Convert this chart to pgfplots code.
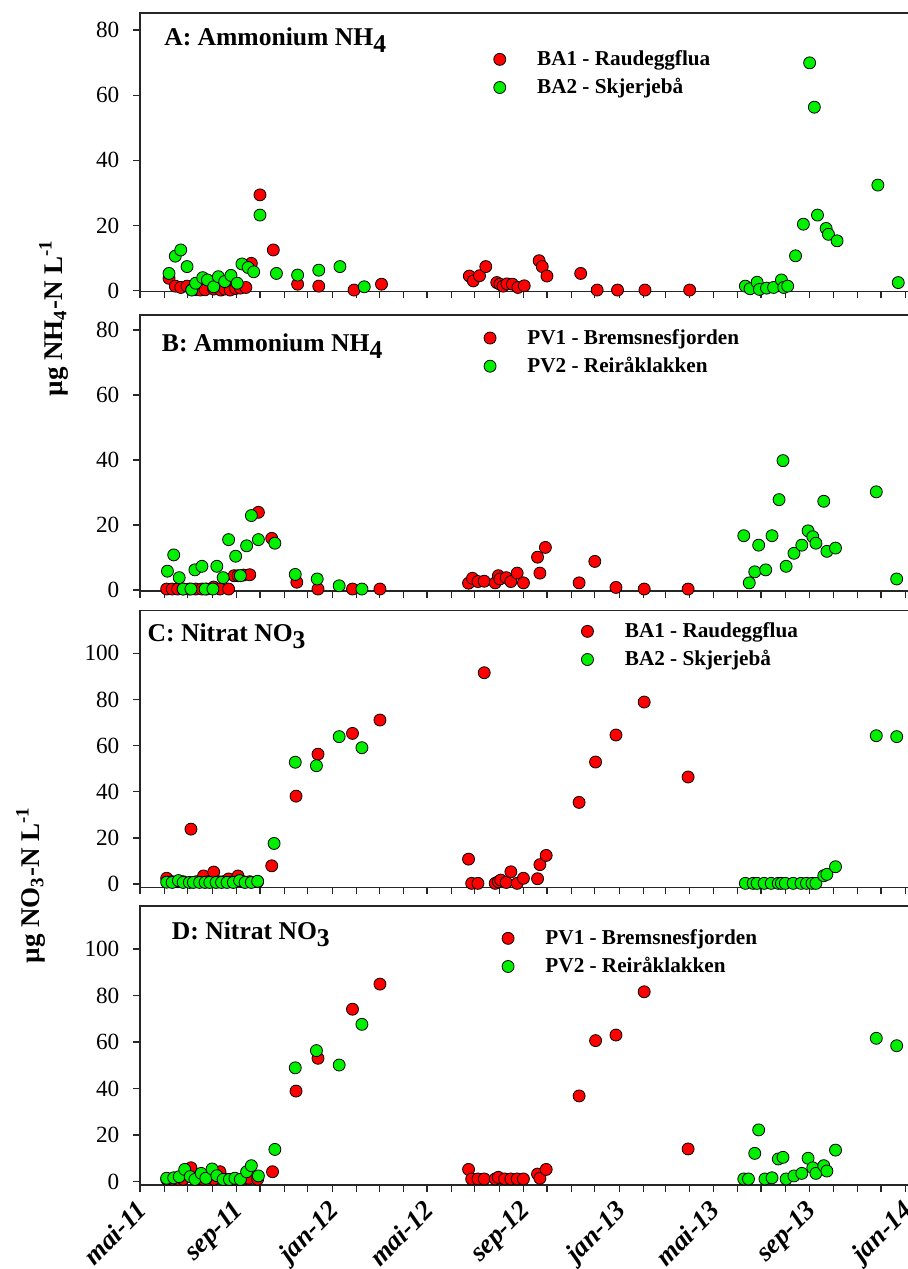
\documentclass[border=0pt]{standalone}
\usepackage{pgfplots}
\pgfplotsset{compat=1.18}
\usepackage{fontspec}
\setmainfont{Liberation Serif}
\definecolor{mred}{RGB}{255,0,0}
\definecolor{mgreen}{RGB}{0,240,0}
\newcommand\sub[1]{\raisebox{-3.5pt}{#1}}
\tikzset{ttl/.style={anchor=base west, inner sep=0pt, font=\fontsize{12.8}{14}\selectfont\bfseries}}
\pgfplotsset{
 panel/.style={
  scale only axis, width=385pt, anchor=south west,
  xmin=0, xmax=982,
  xtick={0,123,245,366,489,611,731,854,976},
  minor xtick={31,61,92,153,184,214,276,305,336,397,427,458,519,550,580,642,670,701,762,792,823,884,915,945},
  xticklabels={},
  tick align=outside, major tick length=3.3pt, minor tick length=3.3pt,
  xtick pos=bottom, ytick pos=left,
  axis line style={line width=0.8pt, black!85},
  tick style={line width=0.6pt, black!85},
  every tick label/.append style={font=\fontsize{11.6}{12}\selectfont},
  /pgf/number format/assume math mode=true,
  yticklabel style={xshift=-3.5pt},
  clip=false,
  legend style={draw=none, fill=none, inner sep=0pt, anchor=north west,
    font=\fontsize{10.6}{12}\selectfont\bfseries, row sep=1pt},
  legend cell align=left,
 },
 rdot/.style={only marks, mark=*, mark size=3pt, mark options={fill=mred, draw=black, line width=0.4pt},
   legend image code/.code={\path (0pt,0pt) (21.5pt,0pt); \draw[##1] plot coordinates {(5pt,0pt)};}},
 gdot/.style={only marks, mark=*, mark size=3pt, mark options={fill=mgreen, draw=black, line width=0.4pt},
   legend image code/.code={\path (0pt,0pt) (21.5pt,0pt); \draw[##1] plot coordinates {(5pt,0pt)};}},
}
\begin{document}
\begin{tikzpicture}
\path[use as bounding box] (0,0) rectangle (453.5pt,634.5pt);
% Panel A
\begin{axis}[panel, at={(70pt,488.65pt)}, height=139.2pt, ymin=-0.3, ymax=85.1,
  ytick={0,20,40,60,80}, legend style={at={(0.4532,0.8825)}}]
\addplot[rdot] coordinates {(37,3.8)(45,1.4)(52,1.0)(60,1.4)(66,0.3)(72,0.3)(77,0.2)(83,0.3)(94,0.5)(103,0.2)(108,0.5)(115,0.2)(122,0.7)(128,0.8)(135,1.0)(142,8.4)(153,29.4)(170,12.5)(201,2.0)(228,1.4)(273,0.2)(308,2.0)(420,4.5)(425,3.0)(433,4.6)(441,7.4)(455,2.5)(459,2.0)(463,1.4)(468,2.1)(475,2.0)(482,1.0)(490,1.5)(509,9.2)(513,7.4)(519,4.5)(562,5.3)(583,0.2)(609,0.2)(644,0.2)(701,0.2)};
\addlegendentry{BA1 - Raudeggflua}
\addplot[gdot] coordinates {(37,5.3)(45,10.6)(52,12.5)(60,7.4)(66,0.2)(71,2.3)(80,4.0)(86,3.3)(94,1.2)(100,4.3)(108,2.8)(116,4.7)(124,2.3)(130,8.2)(138,7.1)(145,5.8)(153,23.2)(174,5.3)(201,4.8)(228,6.3)(255,7.4)(286,1.2)(772,1.4)(778,0.6)(787,2.6)(790,0.4)(799,0.8)(808,1.0)(818,3.3)(821,1.0)(826,1.4)(836,10.7)(846,20.4)(854,69.9)(860,56.3)(864,23.2)(875,19.1)(878,17.3)(889,15.3)(941,32.4)(967,2.5)};
\addlegendentry{BA2 - Skjerjebå}
\node[ttl] at (rel axis cs:0.031,0.886) {A: Ammonium NH\sub{4}};
\end{axis}
% Panel B
\begin{axis}[panel, at={(70pt,339pt)}, height=138pt, ymin=-0.3, ymax=84.6,
  ytick={0,20,40,60,80}, legend style={at={(0.4406,0.9649)}}]
\addplot[rdot] coordinates {(34,0.3)(41,0.3)(48,0.3)(55,0.3)(63,0.3)(71,0.3)(79,0.3)(85,0.3)(94,0.9)(102,0.3)(113,0.3)(120,4.4)(125,4.4)(132,4.6)(140,4.7)(151,23.9)(168,15.9)(200,2.4)(227,0.3)(271,0.3)(306,0.3)(419,2.1)(424,3.6)(431,2.6)(439,2.7)(453,2.2)(457,4.4)(459,3.4)(467,3.8)(473,2.6)(481,5.2)(489,2.2)(507,10.1)(510,5.2)(517,13.1)(560,2.2)(580,8.8)(607,0.8)(643,0.3)(699,0.3)};
\addlegendentry{PV1 - Bremsnesfjorden}
\addplot[gdot] coordinates {(35,5.8)(43,10.8)(50,3.8)(55,0.3)(65,0.3)(70,6.2)(79,7.3)(83,0.3)(93,0.3)(98,7.3)(106,3.8)(113,15.5)(122,10.4)(128,4.4)(136,13.6)(142,22.9)(151,15.5)(172,14.4)(198,4.8)(226,3.4)(254,1.3)(283,0.3)(770,16.7)(777,2.2)(784,5.6)(789,13.8)(798,6.2)(806,16.7)(815,27.8)(820,39.8)(824,7.3)(834,11.3)(844,13.8)(852,18.2)(858,16.4)(862,14.4)(872,27.3)(876,11.9)(887,12.9)(939,30.2)(965,3.4)};
\addlegendentry{PV2 - Reiråklakken}
\node[ttl] at (rel axis cs:0.028,0.867) {B: Ammonium NH\sub{4}};
\end{axis}
% Panel C
\begin{axis}[panel, at={(70pt,190.75pt)}, height=138.4pt, ymin=-1.5, ymax=118.5,
  ytick={0,20,40,60,80,100}, legend style={at={(0.5671,0.9736)}}]
\addplot[rdot] coordinates {(34,2.5)(41,1)(48,1)(55,1)(65,23.8)(72,1)(81,3.5)(87,1)(94,5.2)(100,1)(106,1)(113,2.2)(119,1)(125,3.5)(132,1)(140,1)(150,1)(168,7.9)(199,38.1)(227,56.3)(271,65.3)(306,71.1)(419,10.8)(423,0.3)(431,0.3)(439,91.6)(453,0.3)(457,1.0)(460,1.7)(467,0.7)(473,5.3)(481,0.3)(489,2.5)(507,2.3)(510,8.4)(518,12.4)(560,35.4)(581,52.9)(607,64.6)(643,78.9)(699,46.4)};
\addlegendentry{BA1 - Raudeggflua}
\addplot[gdot] coordinates {(34,0.8)(41,0.7)(49,1.5)(55,0.7)(63,0.7)(68,0.7)(76,0.7)(83,0.7)(89,0.7)(97,0.7)(104,0.7)(111,0.7)(119,0.7)(127,1.5)(134,0.7)(142,0.7)(150,1.2)(171,17.6)(198,52.8)(225,51.3)(254,63.9)(283,59.1)(772,0.3)(782,0.3)(787,0.3)(796,0.3)(805,0.3)(814,0.3)(818,0.3)(823,0.3)(833,0.3)(843,0.3)(850,0.3)(857,0.3)(862,0.3)(872,3.6)(876,4.2)(887,7.5)(939,64.3)(965,63.9)};
\addlegendentry{BA2 - Skjerjebå}
\node[ttl] at (rel axis cs:0.0095,0.888) {C: Nitrat NO\sub{3}};
\end{axis}
% Panel D
\begin{axis}[panel, at={(70pt,42pt)}, height=139.5pt, ymin=-1.5, ymax=118.5,
  ytick={0,20,40,60,80,100}, legend style={at={(0.464,0.9319)}},
  xticklabels={mai-11,sep-11,jan-12,mai-12,sep-12,jan-13,mai-13,sep-13,jan-14},
  xticklabel style={xshift=-2.5pt, yshift=-3.5pt, rotate=45, anchor=north east, inner sep=0pt,
    font=\fontsize{13.5}{14}\selectfont\bfseries\itshape}]
\addplot[rdot] coordinates {(34,1)(41,1)(48,1)(55,1)(65,5.9)(72,1)(80,1)(87,1)(94,1)(102,4.2)(110,1)(118,1)(125,1)(132,1)(139,1.4)(150,1)(169,4.2)(199,38.9)(227,53.0)(271,74.1)(306,84.9)(419,5.2)(423,1.1)(431,1.1)(439,1.1)(453,1.1)(457,1.8)(465,1.1)(473,1.1)(481,1.1)(489,1.1)(507,3.2)(510,1.4)(518,5.2)(560,36.8)(581,60.6)(607,63.0)(643,81.6)(699,14.0)};
\addlegendentry{PV1 - Bremsnesfjorden}
\addplot[gdot] coordinates {(34,1.4)(43,1.6)(50,2.1)(57,5.2)(64,2.1)(70,0.9)(78,3.5)(84,1.4)(92,5.4)(98,2.5)(106,0.9)(114,0.9)(121,1.4)(128,0.9)(136,4.2)(142,6.8)(151,2.4)(172,13.8)(198,48.9)(225,56.3)(254,50.1)(283,67.6)(770,1.1)(776,1.1)(784,12.1)(789,22.2)(797,1.1)(806,1.6)(814,9.7)(820,10.4)(824,1.1)(834,2.4)(844,3.5)(852,10.0)(858,5.9)(862,3.5)(872,6.8)(876,4.5)(887,13.5)(939,61.6)(965,58.4)};
\addlegendentry{PV2 - Reiråklakken}
\node[ttl] at (rel axis cs:0.041,0.881) {D: Nitrat NO\sub{3}};
\end{axis}
\node[rotate=90, anchor=base, font=\fontsize{13.5}{14}\selectfont\bfseries] at (31pt,475.5pt) {µg NH\textsubscript{4}-N L\textsuperscript{-1}};
\node[rotate=90, anchor=base, font=\fontsize{13.5}{14}\selectfont\bfseries] at (19.5pt,192pt) {µg NO\textsubscript{3}-N L\textsuperscript{-1}};
\end{tikzpicture}
\end{document}
